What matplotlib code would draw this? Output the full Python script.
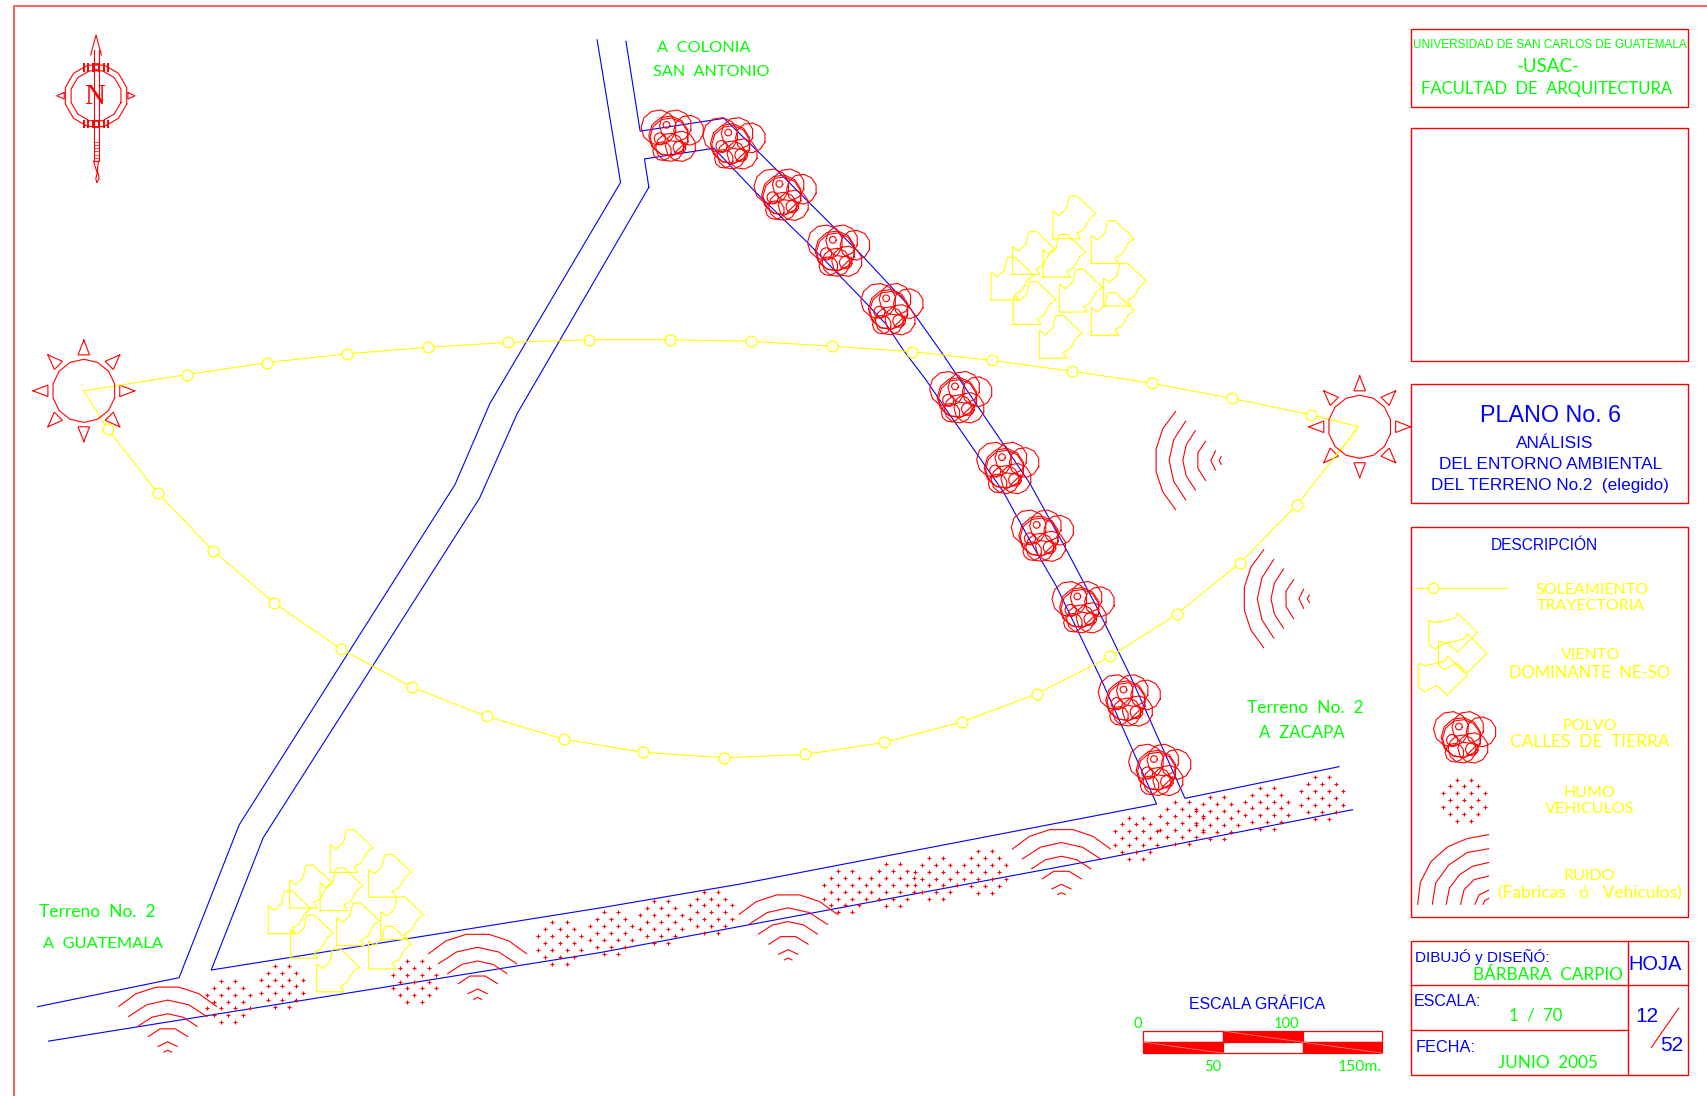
import numpy as np
import matplotlib
matplotlib.use('Agg')
from matplotlib import pyplot as plt
from matplotlib.patches import Rectangle

RED, BLUE, YEL, GRN = '#ff0000', '#0000ff', '#ffff00', '#00ff00'
THIN = ['Lato', 'Open Sans', 'DejaVu Sans']
ARIAL = ['Liberation Sans', 'DejaVu Sans']

# calles
road_left = [(548.5, 36.5), (570, 167.6), (450, 370.6), (418, 445), (219.7, 757.6), (164.5, 898), (34.4, 924.7)]
road_right = [(575, 38), (588, 120.5), (665, 108.7), (701.2, 143.9), (744, 186.8), (790, 232.7), (832.8, 278.6),
              (866.5, 326), (881.8, 349), (946, 444), (979.7, 505.2), (1007.2, 557.2), (1037.9, 620), (1088.5, 733.3),
              (1230, 704.2)]
road_inner = [(596, 172), (592, 146), (655.8, 136.2), (693.5, 176), (740.9, 221.9), (790, 272.5), (814.5, 298.5),
              (829.7, 321.5), (850.6, 349), (875.7, 385.7), (921.6, 451.7), (947.6, 499.2), (970.6, 539),
              (1011.9, 624.9), (1062.4, 738.5), (680, 812), (551, 834), (194, 891), (241.8, 769.4), (440.5, 457.6),
              (475, 380), (596, 172)]
road_low = [(44.6, 956.3), (551, 875), (1010.4, 789.3), (1242.4, 743.7)]

# soleamiento
sun_left = (77, 359)
sun_right = (1249, 392)
sun_top = [(172, 344), (245.5, 333), (319, 325), (393, 319), (467, 314.5), (541, 312), (615.5, 312), (690, 313.5),
           (764, 318), (838, 323), (911, 331), (985, 341), (1058, 352), (1132, 366), (1204, 381)]
sun_low = [(99, 394), (145, 453), (196, 506), (252, 554), (313, 596), (378, 631), (447, 658), (518, 679), (591, 691),
           (665, 696), (739, 693), (812, 682), (884, 663), (953, 637), (1020, 603), (1081, 564), (1139, 517), (1191, 464)]

# simbolos
wind_shape = [(0, 0), (25.3, 0), (21.8, -5.2), (28, -8.3), (34, -19), (39.4, -22.7), (21.8, -39.5), (14.8, -38.9),
              (12.3, -27.6), (5.3, -21.4), (0, -25.7), (0, 0)]
wind_low = [(303.3, 801.3), (338.5, 824), (266, 834), (294, 836.5), (349.7, 863), (309.3, 868.6), (246.4, 857.6),
            (266.8, 880), (338.5, 890), (290.7, 911)]
wind_up = [(x + 664, y - 582) for x, y in wind_low]
wind_key_shape = [(0, 0), (0, 22), (5.3, 26), (16.3, 20), (26.3, 29), (44.5, 11), (26.3, -7), (24, -2.4), (6.9, 2), (0, 0)]
wind_key = [(1312.6, 570), (1321.4, 589), (1303.2, 609.5)]

dust_big = [(-12.6, -7.7, 16.2), (2.8, -9.2, 14.7), (15, -5.2, 13.8), (-3.4, 0, 18.4), (-3, 1, 17.6), (7.5, 9.6, 14),
            (-9.5, 14, 8.6), (-2.4, 10.5, 13)]
dust_small = [(-5.5, -10.1, 3.1), (-11.6, 2.4, 5.2), (6.4, 10.7, 5.8)]
dust_at = [(617.7, 124.8), (674.4, 131.8), (721.4, 179), (770.5, 230.4), (819.5, 284.1), (882.7, 365), (925.9, 430),
           (957.7, 492.2), (995.1, 557.9), (1037.5, 643.5), (1065.5, 707.3), (1345.6, 677.4)]

smoke_rows = [(-19, [-6.5, 6.5]), (-12.7, [-13, 0, 13]), (-6.3, [-19.5, -6.5, 6.5, 19.5]), (0, [-13, 0, 13]),
              (6.3, [-19.5, -6.5, 6.5, 19.5]), (12.7, [-13, 0, 13]), (19, [-6.5, 6.5])]
smoke_at = [(209.8, 920), (259, 906), (380.7, 901.6), (514, 866), (561, 857), (607, 847), (653, 838), (776, 819),
            (820, 813), (860, 807), (905, 801), (1043.4, 770), (1085.4, 756), (1118, 751.5), (1163.5, 742.5),
            (1214.5, 733), (1345, 735)]

noise_arcs = [[(-45, 17.8), (-29.2, 6.1), (-10.5, 0), (10.5, 0), (28.8, 6.1), (45, 17.8)],
              [(-36, 27), (-19.3, 16.2), (0, 11.9), (19.3, 16.2), (36, 27)],
              [(-27.4, 36), (-14.4, 27.6), (0, 24.5), (14.1, 27.6), (27, 36)],
              [(-17.6, 45.3), (-7, 38.3), (7, 38.3), (18.3, 45.3)],
              [(-8.8, 54.5), (0, 50.2), (8.8, 54.5)],
              [(-3.5, 59.7), (0, 57.9), (3.5, 59.7)]]
noise_up = [(154, 906.7), (438.7, 858.2), (724, 822), (975, 762)]
noise_side = [(1062, 423), (1143, 550)]
noise_key = [[(1302.2, 830.6), (1304.7, 810.3), (1314.7, 791.1), (1329.8, 777.8), (1347.7, 770.2), (1367.4, 766.7)],
             [(1315.7, 830.6), (1318.8, 811), (1330.7, 794.6), (1347.7, 783.1), (1367.4, 779.6)],
             [(1328.5, 830.6), (1331.4, 815.6), (1340.8, 803.3), (1352.7, 795.7), (1367.4, 792.2)],
             [(1341.7, 830.6), (1344.8, 817.3), (1354.2, 807.9), (1367.4, 804.7)],
             [(1354.9, 830.6), (1358.6, 821.9), (1367.4, 817.7)],
             [(1362.4, 830.6), (1363.6, 827.4), (1367.4, 825.3)]]

# escala grafica
scale_x = [1050.2, 1123.6, 1196.5, 1269.6]
scale_labels = ['0', '50', '100', '150m.']

fig = plt.figure(figsize=(17.07, 10.96), dpi=100)
ax = fig.add_axes([0, 0, 1, 1])
ax.set_xlim(0, 1568)
ax.set_ylim(1006.7, 0)
ax.axis('off')


def line(pts, color, lw=0.8, z=2):
    pts = np.array(pts)
    ax.plot(pts[:, 0], pts[:, 1], color=color, lw=lw, zorder=z, solid_joinstyle='miter')


def ngon(cx, cy, r, color, n=12, lw=0.8, z=3):
    a = np.linspace(0, 2 * np.pi, n + 1) + np.pi / n
    ax.plot(cx + r * np.cos(a), cy + r * np.sin(a), color=color, lw=lw, zorder=z)


def box(x0, y0, x1, y1):
    ax.add_patch(Rectangle((x0, y0), x1 - x0, y1 - y0, fill=False, ec=RED, lw=1.0))


def txt(x, y, s, size, color=GRN, fam=THIN, ha='center', weight='normal'):
    ax.text(x, y + 1, s, fontsize=size, color=color, family=fam, ha=ha, va='center', weight=weight)


# marco
ax.plot([1568, 12.5, 12.5], [5.5, 5.5, 1006.7], color='#ff6060', lw=1.4)

line(road_left, BLUE)
line(road_right, BLUE)
line(road_inner, BLUE)
line(road_low, BLUE)

# sol
for c in (sun_left, sun_right):
    ngon(c[0], c[1], 29, RED, n=14)
    for k in range(8):
        a = k * np.pi / 4
        u = np.array([np.cos(a), np.sin(a)])
        v = np.array([-u[1], u[0]])
        p = np.array(c)
        line([p + 46.7 * u, p + 33 * u + 5.3 * v, p + 33 * u - 5.3 * v, p + 46.7 * u], RED)

line([sun_left] + sun_top + [(1248, 392), (1228, 418)], YEL)
line([sun_left] + sun_low + [(1248, 392)], YEL)
for x, y in sun_top + sun_low:
    ax.plot(x, y, 'o', ms=7.8, mfc='white', mec=YEL, mew=0.9, zorder=3)

# viento
for x, y in wind_low + wind_up:
    s = np.array(wind_shape)
    line(s + (x, y), YEL)
for x, y in wind_key:
    s = np.array(wind_key_shape)
    line(s + (x, y), YEL)

# polvo
for x, y in dust_at:
    for dx, dy, r in dust_big:
        ngon(x + dx, y + dy, r, RED, n=11)
    for dx, dy, r in dust_small:
        ngon(x + dx, y + dy, r, RED, n=16)
    ax.plot([x + 1.8, x + 11.9], [y + 15.9, y + 6.1], color=RED, lw=0.8, zorder=3)

# humo
for x, y in smoke_at:
    for dy, cols in smoke_rows:
        ax.plot([x + c for c in cols], [y + dy] * len(cols), '+', color=RED, ms=2.2, mew=0.8, zorder=3)

# ruido
for x, y in noise_up:
    for arc in noise_arcs:
        line(np.array(arc) + (x, y), RED)
for x, y in noise_side:
    for arc in noise_arcs:
        line(np.array(arc)[:, ::-1] + (x, y), RED)
for arc in noise_key:
    line(arc, RED)

# norte
cx, cy = 88.2, 88
ngon(cx, cy, 29.2, RED, n=12)
ngon(cx, cy, 23.7, RED, n=12)
for sgn in (-1, 1):
    for dx in (-11, -7, -3, 3, 7, 11):
        ax.plot([cx + dx, cx + dx], [cy + sgn * 23, cy + sgn * 29], color=RED, lw=1.4)
    ax.plot([cx - 2, cx + 2], [cy + sgn * 23.5, cy + sgn * 23.5], color=RED, lw=1.2)
    ax.plot([cx - 2, cx + 2], [cy + sgn * 29, cy + sgn * 29], color=RED, lw=1.2)
line([(86, 46), (86, 148), (90.5, 148), (90.5, 46)], RED)
line([(83.3, 50.5), (88.2, 32), (93.1, 50.5)], RED)
for yy in range(130, 146, 3):
    ax.plot([86, 90.5], [yy, yy], color=RED, lw=0.5)
line([(86, 148), (88, 155), (90.5, 160), (91, 164), (89, 168), (88, 164), (89, 160), (90.5, 148)], RED)
line([(59, 85), (52, 88), (59, 91), (59, 85)], RED)
line([(117.5, 85), (124, 88), (117.5, 91), (117.5, 85)], RED)
ax.text(cx - 1, cy + 1, 'N', fontsize=21, color=RED, family='Liberation Serif', ha='center', va='center')

# cajas
box(1296, 27, 1551, 98)
box(1296, 118, 1551, 332)
box(1296, 353, 1551, 462)
box(1296, 484, 1551, 842)
box(1296, 864, 1551, 987)
ax.plot([1495, 1495], [864, 987], color=RED, lw=1.0)
ax.plot([1296, 1551], [905, 905], color=RED, lw=1.0)
ax.plot([1296, 1495], [946, 946], color=RED, lw=1.0)
ax.plot([1517, 1542], [962, 926], color=RED, lw=0.8)

# textos del plano
txt(646, 43, 'A  COLONIA', 11.8)
txt(653, 65, 'SAN  ANTONIO', 11.7)
txt(89, 837, 'Terreno  No.  2', 12.5)
txt(95, 866, 'A  GUATEMALA', 11.8)
txt(1199, 649, 'Terreno  No.  2', 12.5)
txt(1196, 672, 'A  ZACAPA', 12.2)

txt(1424, 40, 'UNIVERSIDAD DE SAN CARLOS DE GUATEMALA', 8.45, GRN, ARIAL)
txt(1422, 60, '-USAC-', 13.5)
txt(1421, 81, 'FACULTAD  DE  ARQUITECTURA', 12)

txt(1424, 381, 'PLANO No. 6', 16.8, BLUE, ARIAL)
txt(1428, 406, 'ANÁLISIS', 12.4, BLUE, ARIAL)
txt(1424, 426, 'DEL ENTORNO AMBIENTAL', 12.4, BLUE, ARIAL)
txt(1424, 445, 'DEL TERRENO No.2  (elegido)', 12.3, BLUE, ARIAL)

txt(1419, 500, 'DESCRIPCIÓN', 11.2, BLUE, ARIAL)
ax.plot([1301, 1384], [540.5, 540.5], color=YEL, lw=0.8)
ax.plot(1316, 540.5, 'o', ms=7.5, mfc='white', mec=YEL, mew=0.9)

txt(1462, 541, 'SOLEAMIENTO', 11.5, YEL)
txt(1461, 556, 'TRAYECTORIA', 11.5, YEL)
txt(1461, 601, 'VIENTO', 11.5, YEL)
txt(1460, 617, 'DOMINANTE  NE-SO', 12, YEL)
txt(1460, 666, 'POLVO', 11.5, YEL)
txt(1460, 681, 'CALLES  DE  TIERRA', 12.4, YEL)
txt(1460, 727, 'HUMO', 11.5, YEL)
txt(1460, 742, 'VEHICULOS', 11.5, YEL)
txt(1460, 804, 'RUIDO', 11.5, YEL)
txt(1460, 820, '(Fabricas   ó   Vehiculos)', 12.5, YEL)

txt(1300, 878, 'DIBUJÓ y DISEÑÓ:', 11, BLUE, ARIAL, ha='left')
txt(1422, 895, 'BÁRBARA  CARPIO', 12.3, GRN)
txt(1520, 885, 'HOJA', 14.4, BLUE, ARIAL)
txt(1299, 919, 'ESCALA:', 11.5, BLUE, ARIAL, ha='left')
txt(1411, 932, '1  /  70', 12)
txt(1300, 961, 'FECHA:', 11.7, BLUE, ARIAL, ha='left')
txt(1422, 975, 'JUNIO  2005', 12.3)
txt(1513, 933, '12', 15, BLUE, ARIAL)
txt(1536, 959, '52', 15, BLUE, ARIAL)

# escala grafica
txt(1155, 922, 'ESCALA GRÁFICA', 11.4, BLUE, ARIAL)
for i in range(3):
    top_red = i == 1
    w = scale_x[i + 1] - scale_x[i]
    ax.add_patch(Rectangle((scale_x[i], 947), w, 10.2, fc=RED if top_red else 'white', ec=RED, lw=0.9))
    ax.add_patch(Rectangle((scale_x[i], 957.2), w, 10.2, fc='white' if top_red else RED, ec=RED, lw=0.9))
    y0 = 947 if top_red else 957.2
    ax.plot([scale_x[i], scale_x[i + 1]], [y0, y0 + 10.2], color='#ff8080', lw=0.6, zorder=4)
txt(1045, 940, scale_labels[0], 10.5)
txt(1114, 979, scale_labels[1], 10.5)
txt(1182, 940, scale_labels[2], 10.5)
txt(1249, 979, scale_labels[3], 11.3)

fig.savefig('out.png', dpi=100, facecolor='white')
